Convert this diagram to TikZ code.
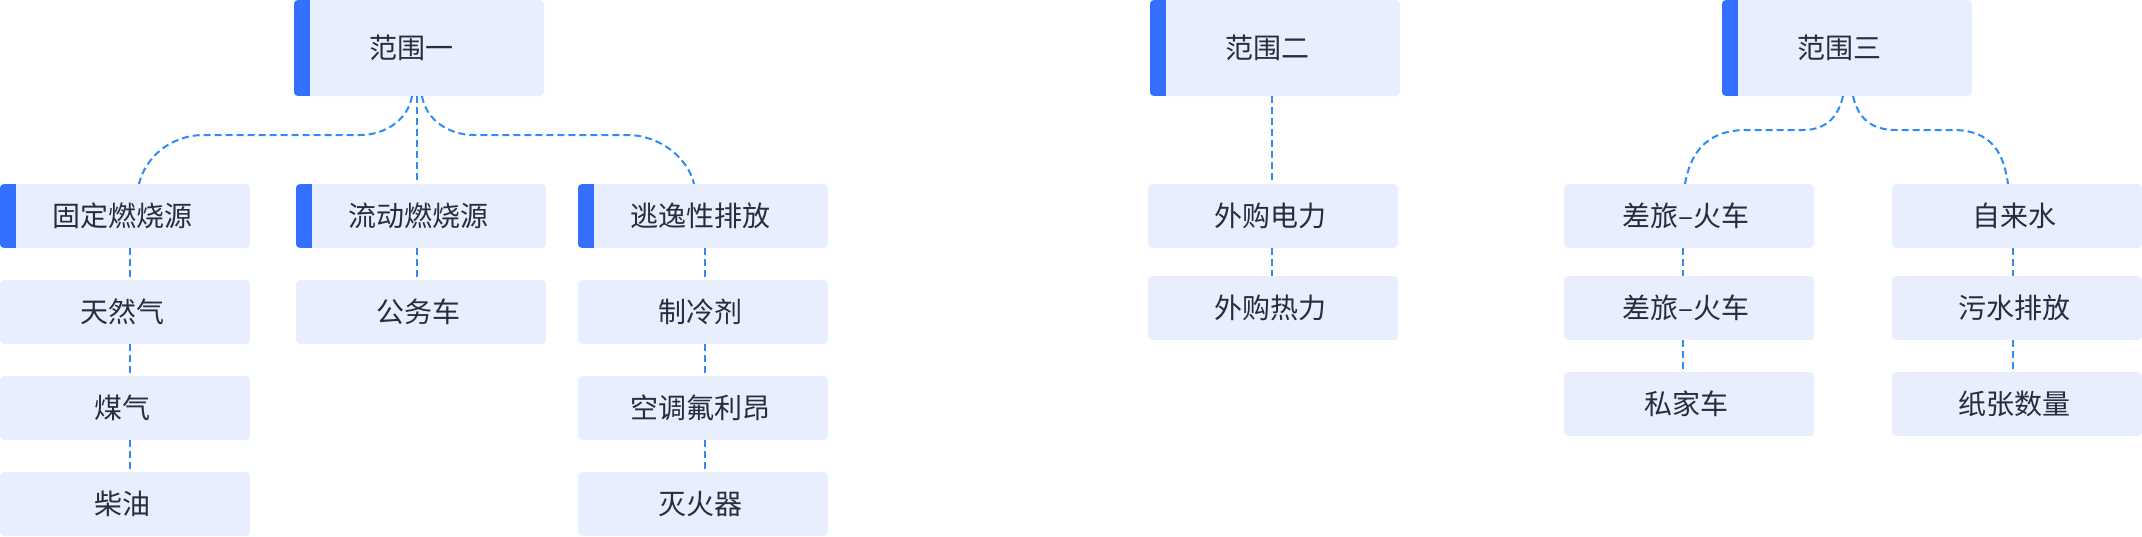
\documentclass[tikz,border=0pt]{standalone}
\usepackage{fontspec}
\newfontfamily\cjk{Noto Sans CJK SC}
\definecolor{boxfill}{HTML}{E8EEFE}
\definecolor{barblue}{HTML}{3370FF}
\definecolor{linkblue}{HTML}{2E8CF2}
\definecolor{txt}{HTML}{282C3F}
\tikzset{
  basebox/.style={fill=boxfill, rounded corners=2pt, inner sep=0pt, outer sep=0pt,
    minimum width=125pt, minimum height=32pt, text=txt,
    font=\cjk\fontsize{14pt}{16pt}\selectfont, anchor=north west},
  box/.style={basebox, execute at end node={\hspace*{3pt}}},
  topbox/.style={basebox, minimum height=48pt, execute at end node={\hspace*{8pt}}},
  bar/.style={path picture={\fill[barblue, sharp corners] (path picture bounding box.south west) rectangle ([xshift=8pt]path picture bounding box.north west);}},
  link/.style={draw=linkblue, line width=1pt, dash pattern=on 3.5pt off 2pt},
}
\begin{document}
\begin{tikzpicture}[x=0.5pt, y=-0.5pt]
\useasboundingbox (0,0) rectangle (2142,536);
% top level
\node[topbox, bar] (s1) at (294,0) {范围一};
\node[topbox, bar] (s2) at (1150,0) {范围二};
\node[topbox, bar] (s3) at (1722,0) {范围三};
% scope one
\node[box, bar] (a1) at (0,184) {固定燃烧源};
\node[box, bar] (a2) at (296,184) {流动燃烧源};
\node[box, bar] (a3) at (578,184) {逃逸性排放};
\node[box] (a11) at (0,280) {天然气};
\node[box] (a12) at (0,376) {煤气};
\node[box] (a13) at (0,472) {柴油};
\node[box] (a21) at (296,280) {公务车};
\node[box] (a31) at (578,280) {制冷剂};
\node[box] (a32) at (578,376) {空调氟利昂};
\node[box] (a33) at (578,472) {灭火器};
% scope two
\node[box] (b1) at (1148,184) {外购电力};
\node[box] (b2) at (1148,276) {外购热力};
% scope three
\node[box] (c1) at (1564,184) {差旅–火车};
\node[box] (c11) at (1564,276) {差旅–火车};
\node[box] (c12) at (1564,372) {私家车};
\node[box] (c2) at (1892,184) {自来水};
\node[box] (c21) at (1892,276) {污水排放};
\node[box] (c22) at (1892,372) {纸张数量};
% connectors scope one
\draw[link] ([xshift=-3.5pt]s1.south) .. controls (408,120) and (385,135) .. (360,135)
  -- (204,135) .. controls (170,135) and (145,158) .. ([xshift=7pt]a1.north);
\draw[link] ([xshift=1.5pt]s1.south) .. controls (426,120) and (449,135) .. (474,135)
  -- (627,135) .. controls (660,135) and (688,158) .. ([xshift=-4.5pt]a3.north);
\draw[link] ([xshift=-1pt]s1.south) -- ([xshift=-2pt]a2.north);
\draw[link] ([xshift=2.5pt]a1.south) -- ([xshift=2.5pt]a11.north);
\draw[link] ([xshift=2.5pt]a11.south) -- ([xshift=2.5pt]a12.north);
\draw[link] ([xshift=2.5pt]a12.south) -- ([xshift=2.5pt]a13.north);
\draw[link] ([xshift=-2pt]a2.south) -- ([xshift=-2pt]a21.north);
\draw[link] ([xshift=1pt]a3.south) -- ([xshift=1pt]a31.north);
\draw[link] ([xshift=1pt]a31.south) -- ([xshift=1pt]a32.north);
\draw[link] ([xshift=1pt]a32.south) -- ([xshift=1pt]a33.north);
% connectors scope two
\draw[link] ([xshift=-1.5pt]s2.south) -- ([xshift=-0.5pt]b1.north);
\draw[link] ([xshift=-0.5pt]b1.south) -- ([xshift=-0.5pt]b2.north);
% connectors scope three
\draw[link] ([xshift=-2pt]s3.south) .. controls (1838,118) and (1825,130) .. (1803,130)
  -- (1746,130) .. controls (1705,130) and (1690,155) .. ([xshift=-2pt]c1.north);
\draw[link] ([xshift=3pt]s3.south) .. controls (1858,118) and (1871,130) .. (1896,130)
  -- (1953,130) .. controls (1993,130) and (2004,155) .. ([xshift=-4.5pt]c2.north);
\draw[link] ([xshift=-3pt]c1.south) -- ([xshift=-3pt]c11.north);
\draw[link] ([xshift=-3pt]c11.south) -- ([xshift=-3pt]c12.north);
\draw[link] ([xshift=-2pt]c2.south) -- ([xshift=-2pt]c21.north);
\draw[link] ([xshift=-2pt]c21.south) -- ([xshift=-2pt]c22.north);
\end{tikzpicture}
\end{document}
